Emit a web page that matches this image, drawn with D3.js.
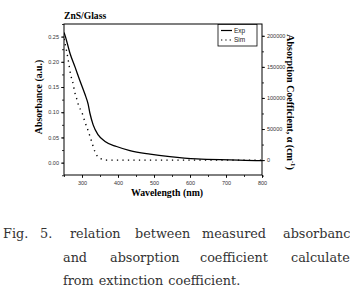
<!DOCTYPE html>
<html>
<head>
<meta charset="utf-8">
<script src="https://cdn.jsdelivr.net/npm/d3@7/dist/d3.min.js"></script>
<style>
  body { margin: 0; background: #fff; }
  svg { display: block; }
</style>
</head>
<body>
<script>
// wavelength (nm) and measured absorbance (left axis)
var expWave = [250, 253, 267, 281, 294, 308, 317, 322, 331, 345, 364, 396, 433, 489, 544, 619, 711, 794, 800];
var expAbs = [0.258, 0.252, 0.216, 0.189, 0.163, 0.136, 0.116, 0.098, 0.075, 0.055, 0.042, 0.032, 0.024, 0.017, 0.012, 0.0073, 0.0054, 0.004, 0.004];
// simulated absorption coefficient (right axis)
var simWave = [250, 256, 262, 269, 274, 281, 287, 290, 299, 308, 318, 327, 336, 350, 369, 400, 500, 600, 700, 800];
var simAlpha = [195000, 179000, 160000, 136000, 126000, 106500, 95600, 88700, 77900, 61800, 45600, 29500, 13400, 2700, 0, 0, 0, 0, 0, 0];

var xTicks = [300, 400, 500, 600, 700, 800];
var leftTicks = [0.00, 0.05, 0.10, 0.15, 0.20, 0.25];
var rightTicks = [0, 50000, 100000, 150000, 200000];
var legendNames = ["Exp", "Sim"];
var caption = [
    ["Fig.", "5.", "relation", "between", "measured", "absorbance"],
    ["and", "absorption", "coefficient", "calculated"],
    ["from", "extinction", "coefficient."]
];

function drawChart() {
    var width = 350, height = 291;
    var pLeft = 64, pRight = 262, pTop = 24, pBottom = 175;

    var svg = d3.select("body").append("svg")
        .attr("width", width)
        .attr("height", height);

    var x = d3.scaleLinear().domain([250, 800]).range([pLeft, pRight]);
    var yL = d3.scaleLinear().domain([-0.0245, 0.275]).range([pBottom, pTop]);
    var yR = d3.scaleLinear().domain([-24000, 219000]).range([pBottom, pTop]);

    // frame
    svg.append("rect")
        .attr("x", pLeft).attr("y", pTop)
        .attr("width", pRight - pLeft).attr("height", pBottom - pTop)
        .attr("fill", "none").attr("stroke", "#000").attr("stroke-width", 1);

    function styleAxis(g) {
        g.select(".domain").remove();
        g.selectAll("line").attr("stroke", "#000").attr("stroke-width", 0.8);
        g.selectAll("text").attr("font-family", "Liberation Sans, Arial, sans-serif")
            .attr("font-size", 5.5).attr("fill", "#333");
    }

    // minor ticks
    svg.append("g").attr("transform", "translate(0," + pBottom + ")")
        .call(d3.axisBottom(x).tickValues(d3.range(250, 801, 50)).tickSize(2).tickFormat(""))
        .call(styleAxis);
    svg.append("g").attr("transform", "translate(" + pLeft + ",0)")
        .call(d3.axisLeft(yL).tickValues(d3.range(-0.025, 0.276, 0.025)).tickSize(2).tickFormat(""))
        .call(styleAxis);
    svg.append("g").attr("transform", "translate(" + pRight + ",0)")
        .call(d3.axisRight(yR).tickValues(d3.range(-25000, 219000, 25000)).tickSize(2).tickFormat(""))
        .call(styleAxis);

    // major ticks
    svg.append("g").attr("transform", "translate(0," + pBottom + ")")
        .call(d3.axisBottom(x).tickValues(xTicks).tickSize(3).tickPadding(3).tickFormat(d3.format("d")))
        .call(styleAxis);
    svg.append("g").attr("transform", "translate(" + pLeft + ",0)")
        .call(d3.axisLeft(yL).tickValues(leftTicks).tickSize(3).tickPadding(2).tickFormat(d3.format(".2f")))
        .call(styleAxis);
    svg.append("g").attr("transform", "translate(" + pRight + ",0)")
        .call(d3.axisRight(yR).tickValues(rightTicks).tickSize(3).tickPadding(2).tickFormat(d3.format("d")))
        .call(styleAxis);

    // curves
    svg.append("clipPath").attr("id", "plot").append("rect")
        .attr("x", pLeft).attr("y", pTop).attr("width", pRight - pLeft).attr("height", pBottom - pTop);

    var lineExp = d3.line().x(function(d, i) { return x(expWave[i]); })
        .y(function(d) { return yL(d); }).curve(d3.curveMonotoneX);
    var lineSim = d3.line().x(function(d, i) { return x(simWave[i]); })
        .y(function(d) { return yR(d); }).curve(d3.curveMonotoneX);

    svg.append("path").datum(expAbs).attr("d", lineExp)
        .attr("clip-path", "url(#plot)")
        .attr("fill", "none").attr("stroke", "#000").attr("stroke-width", 1.3);
    svg.append("path").datum(simAlpha).attr("d", lineSim)
        .attr("clip-path", "url(#plot)")
        .attr("fill", "none").attr("stroke", "#000").attr("stroke-width", 1.4)
        .attr("stroke-dasharray", "1.3,4.2");

    // legend
    var lg = svg.append("g");
    lg.append("rect").attr("x", 218).attr("y", 24.5).attr("width", 39).attr("height", 21.5)
        .attr("fill", "#fff").attr("stroke", "#000").attr("stroke-width", 0.8);
    legendNames.forEach(function(name, i) {
        var yy = 30.5 + i * 9.5;
        lg.append("line").attr("x1", 221).attr("x2", 232).attr("y1", yy).attr("y2", yy)
            .attr("stroke", "#000").attr("stroke-width", 1.2)
            .attr("stroke-dasharray", i == 1 ? "1.3,3" : null);
        lg.append("text").attr("x", 234).attr("y", yy + 2.3).text(name)
            .attr("font-family", "Liberation Sans, Arial, sans-serif").attr("font-size", 6.5).attr("fill", "#222");
    });

    // titles
    var serif = "Liberation Serif, Times New Roman, serif";
    svg.append("text").attr("x", 64).attr("y", 19).text("ZnS/Glass")
        .attr("font-family", serif).attr("font-weight", "bold").attr("font-size", 9.6);
    svg.append("text").attr("x", (pLeft + pRight) / 2 + 4).attr("y", 196).attr("text-anchor", "middle")
        .text("Wavelength (nm)")
        .attr("font-family", serif).attr("font-weight", "bold").attr("font-size", 9.8);
    svg.append("text").attr("transform", "translate(42,97) rotate(-90)").attr("text-anchor", "middle")
        .text("Absorbance (a.u.)")
        .attr("font-family", serif).attr("font-weight", "bold").attr("font-size", 9.8);
    var rt = svg.append("text").attr("transform", "translate(287,102) rotate(90)").attr("text-anchor", "middle")
        .attr("font-family", serif).attr("font-weight", "bold").attr("font-size", 10);
    rt.append("tspan").text("Absorption Coefficient, α (cm");
    rt.append("tspan").attr("dy", -3.5).attr("font-size", 6.5).text("-1");
    rt.append("tspan").attr("dy", 3.5).text(")");

    // caption: first two lines justified as in the original, last line set normally
    var capX = [[3, 40, 70, 135, 202, 283], [63, 110, 200, 291], [63]];
    var capBase = [238, 261.5, 285];
    caption.forEach(function(words, li) {
        var cx = capX[li][0];
        words.forEach(function(w, i) {
            var t = svg.append("text").text(w)
                .attr("x", capX[li][i] != null ? capX[li][i] : cx).attr("y", capBase[li])
                .attr("font-family", "DejaVu Serif, serif").attr("font-size", 12.8).attr("fill", "#333");
            cx = +t.attr("x") + t.node().getComputedTextLength() + 5;
        });
    });
}

drawChart();
</script>
</body>
</html>
